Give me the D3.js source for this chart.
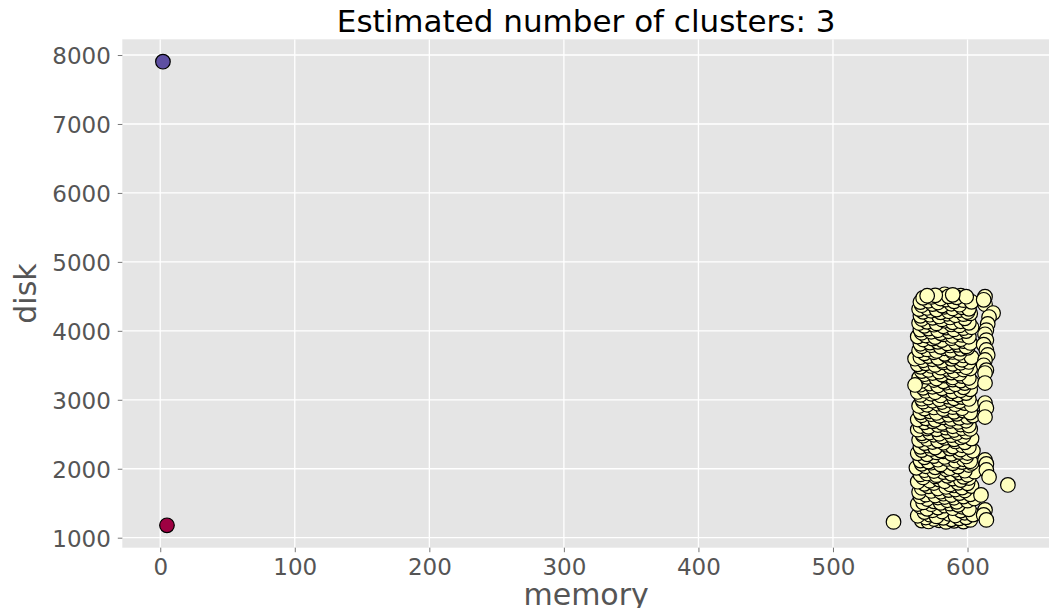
<!DOCTYPE html>
<html>
<head>
<meta charset="utf-8">
<script src="https://cdn.jsdelivr.net/npm/d3@7"></script>
<style>
    body { margin: 0; background: #fff; }
    svg { display: block; font-family: "DejaVu Sans", sans-serif; }
    .tick text { fill: #555555; }
    .tick line { stroke: #555555; }
</style>
</head>
<body>
<svg id="chart" width="1049" height="608"></svg>
<script>
const title = 'Estimated number of clusters: 3';
const xLabel = 'memory';
const yLabel = 'disk';

const xTicks = [0, 100, 200, 300, 400, 500, 600];
const yTicks = [1000, 2000, 3000, 4000, 5000, 6000, 7000, 8000];
const xLimits = [-28.2, 661.3];
const yLimits = [855, 8228];

// Spectral colours, one per cluster label
const clusterColors = ['#9e0142', '#ffffbf', '#5e4fa2'];

// cluster 0 (red)
const cluster0 = [[5, 1180]];

// cluster 2 (purple)
const cluster2 = [[2, 7903]];

// cluster 1 (yellow), [memory, disk]
const cluster1 = [
    // core of the column (drawn first, mostly hidden)
    [581,1262],[592,1301],[576,1356],[586,1404],[597,1466],[579,1551],[589,1597],[583,1702],[595,1769],[577,1861],
    [588,1899],[593,1962],[579,2031],[586,2099],[594,2157],[578,2199],[590,2266],[584,2325],[597,2404],[577,2451],
    [592,2497],[586,2553],[580,2619],[596,2666],[590,2741],[578,2801],[585,2856],[593,2903],[580,2957],[589,3047],
    [595,3107],[578,3153],[585,3201],[593,3297],[579,3347],[586,3404],[592,3455],[583,3512],[597,3566],[578,3629],
    [591,3677],[585,3729],[579,3799],[594,3857],[585,3942],[591,4001],[579,4051],[596,4097],[585,4157],[590,4213],
    [577,4254],[595,4301],[583,4333],[590,4401],[578,4447],[595,4511],[583,4530],[598,4458],[572,4389],[599,4157],
    [573,3958],[599,3703],[572,3464],[600,3224],[572,2999],[599,2862],[571,2553],[600,2311],[572,2141],[598,1919],
    [573,1705],[600,1468],[572,1272],[587,1351],[582,1483],[591,1652],[581,1814],[588,2058],[583,2395],[591,2620],
    // bands from bottom to top
    [566,1248],[571,1236],[579,1252],[584,1229],[590,1244],[597,1233],[602,1258],[575,1271],[588,1266],[594,1281],[569,1293],[582,1288],[599,1296],
    [563,1318],[572,1334],[577,1309],[586,1347],[591,1322],[598,1362],[604,1335],[568,1371],[581,1380],[595,1393],[574,1398],
    [565,1452],[570,1418],[578,1437],[583,1465],[589,1428],[596,1449],[601,1412],[573,1486],[587,1494],[593,1477],[563,1489],
    [567,1512],[575,1528],[580,1506],[585,1543],[592,1521],[600,1537],[605,1568],[570,1561],[578,1583],[590,1579],[597,1596],[565,1598],[583,1590],
    [569,1624],[576,1612],[582,1638],[588,1619],[594,1647],[602,1629],[564,1662],[573,1678],[580,1667],[586,1691],[598,1684],[591,1699],
    [566,1722],[571,1745],[578,1713],[584,1736],[590,1758],[596,1727],[603,1749],[568,1781],[575,1793],[587,1772],[593,1796],[600,1788],
    [563,1812],[572,1826],[579,1843],[583,1819],[589,1857],[595,1835],[601,1866],[567,1874],[576,1889],[585,1897],[597,1882],
    [565,1918],[570,1932],[577,1907],[582,1951],[588,1926],[594,1944],[600,1913],[605,1958],[568,1979],[575,1967],[584,1993],[591,1985],[598,1972],
    [562,2013],[569,2036],[576,2021],[581,2047],[587,2008],[593,2032],[601,2054],[566,2071],[573,2088],[580,2063],[589,2079],[596,2096],[603,2084],
    [565,2118],[571,2104],[578,2131],[585,2142],[591,2117],[597,2138],[602,2109],[568,2166],[575,2183],[583,2171],[590,2196],[599,2178],
    [563,2224],[570,2209],[577,2237],[582,2252],[588,2216],[594,2241],[600,2228],[566,2271],[573,2286],[580,2264],[587,2293],[595,2279],[604,2262],
    [565,2318],[571,2335],[576,2307],[584,2349],[589,2322],[596,2341],[601,2315],[568,2372],[574,2388],[582,2377],[591,2396],[598,2383],
    [564,2416],[570,2432],[578,2409],[583,2447],[590,2426],[595,2454],[603,2438],[567,2479],[575,2493],[581,2468],[588,2487],[597,2475],
    [566,2513],[572,2526],[579,2507],[585,2542],[592,2518],[599,2536],[563,2567],[570,2584],[577,2571],[584,2596],[590,2562],[596,2588],[602,2577],
    [565,2621],[571,2608],[578,2634],[583,2649],[589,2616],[595,2642],[601,2627],[568,2673],[574,2688],[581,2665],[587,2692],[593,2679],[599,2696],
    [563,2714],[569,2731],[576,2709],[582,2746],[588,2723],[594,2738],[600,2752],[566,2776],[573,2791],[579,2768],[586,2783],[592,2797],[604,2771],
    [565,2818],[572,2832],[577,2809],[584,2851],[590,2826],[597,2844],[602,2815],[568,2872],[575,2889],[582,2866],[589,2893],[596,2878],
    [564,2911],[570,2928],[578,2943],[583,2917],[591,2936],[598,2952],[603,2924],[567,2973],[574,2986],[581,2968],[587,2995],[594,2979],
    [566,3016],[571,3033],[579,3008],[585,3047],[590,3021],[596,3039],[601,3012],[565,3071],[573,3088],[580,3063],[588,3092],[593,3076],[599,3097],
    [563,3114],[569,3128],[576,3109],[583,3146],[589,3122],[595,3138],[602,3151],[567,3173],[574,3189],[581,3166],[587,3194],[597,3181],
    [565,3219],[572,3236],[578,3207],[584,3248],[591,3225],[598,3242],[566,3274],[575,3287],[582,3268],[589,3293],[595,3279],[603,3262],
    [564,3318],[570,3332],[577,3309],[583,3351],[589,3324],[596,3344],[601,3316],[568,3371],[574,3388],[581,3366],[588,3395],[594,3379],
    [566,3416],[571,3433],[579,3408],[585,3447],[590,3422],[597,3439],[602,3454],[565,3478],[573,3491],[580,3466],[587,3486],[593,3497],[599,3473],
    [563,3514],[569,3529],[576,3506],[582,3542],[589,3521],[595,3537],[601,3549],[567,3573],[574,3588],[581,3566],[588,3594],[596,3581],[561,3596],
    [565,3618],[571,3634],[578,3609],[584,3651],[590,3626],[597,3643],[603,3615],[568,3673],[575,3689],[583,3667],[589,3694],[594,3679],
    [564,3716],[570,3731],[577,3708],[583,3747],[588,3722],[595,3739],[600,3754],[566,3776],[573,3792],[580,3768],[587,3788],[593,3797],[599,3774],
    [565,3813],[572,3829],[578,3841],[585,3818],[591,3836],[597,3852],[602,3824],[567,3874],[574,3888],[581,3866],[588,3893],[595,3879],
    [563,3916],[569,3932],[576,3909],[582,3948],[589,3926],[596,3941],[601,3914],[566,3972],[573,3987],[580,3968],[586,3994],[593,3979],[599,3996],
    [565,4017],[571,4033],[578,4008],[584,4046],[590,4021],[597,4039],[603,4052],[568,4073],[575,4089],[582,4066],[588,4093],[594,4079],
    [564,4114],[570,4131],[577,4108],[583,4147],[589,4123],[595,4139],[601,4116],[566,4172],[574,4188],[581,4166],[587,4194],[598,4181],
    [565,4218],[572,4234],[579,4209],[585,4248],[591,4226],[597,4242],[602,4253],[567,4276],[573,4291],[580,4268],[586,4284],[593,4297],[600,4273],
    [564,4316],[570,4332],[577,4308],[583,4349],[589,4324],[596,4341],[601,4319],[566,4372],[574,4388],[581,4366],[588,4393],[594,4379],
    [565,4417],[571,4436],[578,4411],[584,4452],[590,4428],[597,4445],[603,4421],[567,4478],[573,4492],[580,4469],[586,4501],[592,4486],[599,4495],[576,4515],[589,4522],[570,4509],
    // stragglers right of the main column and a few strays
    [613,4495],[613,4386],[612,4450],[619,4258],[616,4200],[615,4100],[614,4011],[613,3950],[614,3866],[612,3800],[614,3722],[615,3650],
    [613,3577],[612,3500],[614,3430],[613,3388],[613,3243],[613,2953],[614,2880],[613,2750],[613,2127],[614,2070],[614,1982],[616,1880],
    [630,1765],[610,1620],[613,1403],[612,1330],[614,1258],[545,1229],[561,3215]
];

const clusters = [cluster0, cluster1, cluster2];

const plot = { left: 122.3, right: 1050, top: 39.3, bottom: 547.7 };
const fontFamily = '"DejaVu Sans", sans-serif';

const x = d3.scaleLinear().domain(xLimits).range([plot.left, plot.right]);
const y = d3.scaleLinear().domain(yLimits).range([plot.bottom, plot.top]);

const svg = d3.select('#chart');

svg.append('defs')
    .append('clipPath')
    .attr('id', 'plot-clip')
    .append('rect')
    .attr('x', plot.left)
    .attr('y', plot.top)
    .attr('width', plot.right - plot.left)
    .attr('height', plot.bottom - plot.top);

// background
svg.append('rect')
    .attr('x', plot.left)
    .attr('y', plot.top)
    .attr('width', plot.right - plot.left)
    .attr('height', plot.bottom - plot.top)
    .style('fill', '#e5e5e5');

// grid
const grid = svg.append('g').attr('clip-path', 'url(#plot-clip)');

grid.selectAll('.vgrid')
    .data(xTicks)
    .join('line')
    .attr('class', 'vgrid')
    .attr('x1', d => x(d))
    .attr('x2', d => x(d))
    .attr('y1', plot.top)
    .attr('y2', plot.bottom)
    .style('stroke', '#ffffff')
    .style('stroke-width', 1.3);

grid.selectAll('.hgrid')
    .data(yTicks)
    .join('line')
    .attr('class', 'hgrid')
    .attr('x1', plot.left)
    .attr('x2', plot.right)
    .attr('y1', d => y(d))
    .attr('y2', d => y(d))
    .style('stroke', '#ffffff')
    .style('stroke-width', 1.3);

// axes
const xAxis = svg.append('g')
    .attr('transform', `translate(0,${plot.bottom})`)
    .call(d3.axisBottom(x).tickValues(xTicks).tickSize(4.5).tickPadding(6).tickFormat(d3.format('d')));

const yAxis = svg.append('g')
    .attr('transform', `translate(${plot.left},0)`)
    .call(d3.axisLeft(y).tickValues(yTicks).tickSize(4.5).tickPadding(7).tickFormat(d3.format('d')));

[xAxis, yAxis].forEach(a => {
    a.attr('font-family', fontFamily).attr('font-size', null);
    a.select('.domain').remove();
    a.selectAll('.tick text').style('font-size', '23px');
    a.selectAll('.tick line').style('stroke-width', 0.8);
});
xAxis.selectAll('.tick text').attr('dy', '0.74em');
yAxis.selectAll('.tick text').attr('dy', '0.38em');

// points
const points = svg.append('g').attr('clip-path', 'url(#plot-clip)');

clusters.forEach((pts, k) => {
    points.append('g')
        .selectAll('circle')
        .data(pts)
        .join('circle')
        .attr('cx', d => x(d[0]))
        .attr('cy', d => y(d[1]))
        .attr('r', 7.3)
        .style('fill', clusterColors[k])
        .style('stroke', '#000000')
        .style('stroke-width', 1.2);
});

// labels
svg.append('text')
    .attr('x', (plot.left + plot.right) / 2)
    .attr('y', 31.7)
    .attr('text-anchor', 'middle')
    .style('font-family', fontFamily)
    .style('font-size', '31px')
    .style('fill', '#000000')
    .text(title);

svg.append('text')
    .attr('x', (plot.left + plot.right) / 2)
    .attr('y', 605)
    .attr('text-anchor', 'middle')
    .style('font-family', fontFamily)
    .style('font-size', '30px')
    .style('fill', '#555555')
    .text(xLabel);

svg.append('text')
    .attr('transform', `translate(36,${(plot.top + plot.bottom) / 2}) rotate(-90)`)
    .attr('text-anchor', 'middle')
    .style('font-family', fontFamily)
    .style('font-size', '30px')
    .style('fill', '#555555')
    .text(yLabel);
</script>
</body>
</html>
